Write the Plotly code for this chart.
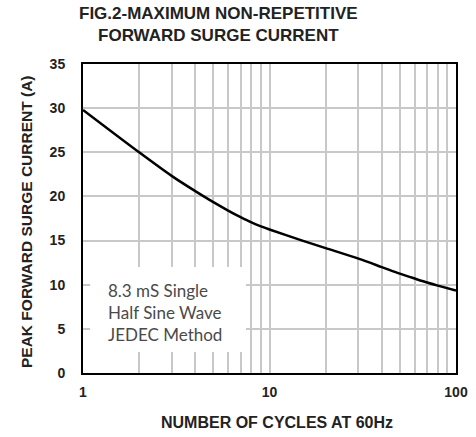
import plotly.graph_objects as go

cycles = [1, 2, 3, 4, 5, 6, 7, 8, 9, 10, 15, 20, 30, 40, 50, 60, 70, 80, 100]
current = [29.8, 25.0, 22.3, 20.6, 19.35, 18.4, 17.65, 17.05, 16.6, 16.25, 15.0, 14.15, 12.95, 12.0, 11.25, 10.7, 10.25, 9.9, 9.35]

x_tickvals = [1, 10, 100]
x_ticktext = ["1", "10", "100"]
x_minor = [2, 3, 4, 5, 6, 7, 8, 9, 20, 30, 40, 50, 60, 70, 80, 90]
y_tickvals = [0, 5, 10, 15, 20, 25, 30, 35]

title_text = "FIG.2-MAXIMUM NON-REPETITIVE<br>FORWARD SURGE CURRENT"
x_title = "NUMBER OF CYCLES AT 60Hz"
y_title = "PEAK FORWARD SURGE CURRENT (A)"
note_text = "8.3 mS Single<br>Half Sine Wave<br>JEDEC Method"

fig = go.Figure()
fig.add_trace(go.Scatter(x=cycles, y=current, mode="lines",
                         line=dict(color="black", width=2.5, shape="spline", smoothing=0.8),
                         showlegend=False))

bold = dict(family="Liberation Sans", color="#222", weight="bold")
fig.update_xaxes(type="log", range=[0, 2], tickvals=x_tickvals, ticktext=x_ticktext,
                 showgrid=True, gridcolor="#c8c8c8", gridwidth=2,
                 minor=dict(tickvals=x_minor, showgrid=True, gridcolor="#c8c8c8", gridwidth=2),
                 showline=True, linecolor="black", linewidth=2, mirror=True,
                 ticks="", ticklabelstandoff=5, tickfont=dict(size=14, **bold),
                 automargin=False, zeroline=False)
fig.update_yaxes(range=[0, 35], tickvals=y_tickvals,
                 showgrid=True, gridcolor="#c8c8c8", gridwidth=2,
                 showline=True, linecolor="black", linewidth=2, mirror=True,
                 ticks="", ticklabelstandoff=13, tickfont=dict(size=14, **bold),
                 automargin=False, zeroline=False)

fig.add_shape(type="rect", xref="paper", yref="paper", x0=0.019, x1=0.437, y0=0.068, y1=0.343,
              fillcolor="white", line=dict(width=0), layer="above")
fig.add_annotation(text=note_text, xref="paper", yref="paper", x=0.062, y=0.308,
                   xanchor="left", yanchor="top", align="left", showarrow=False,
                   font=dict(family="Lato", size=17, color="#4a4a4a"))

# titles
fig.add_annotation(text=title_text, xref="paper", yref="paper", x=(218 - 83) / 373, y=1 + 62 / 309,
                   xanchor="center", yanchor="top", showarrow=False, align="center",
                   font=dict(size=17, **bold))
fig.add_annotation(text=x_title, xref="paper", yref="paper", x=(277 - 83) / 373, y=-(422 - 373) / 309,
                   xanchor="center", yanchor="middle", showarrow=False,
                   font=dict(size=16, **bold))
fig.add_annotation(text=y_title, xref="paper", yref="paper", x=-(83 - 27) / 373, y=0.5 - (222 - 218.5) / 309,
                   xanchor="center", yanchor="middle", showarrow=False, textangle=-90,
                   font=dict(size=15.5, **bold))

fig.update_layout(
    width=476, height=437,
    margin=dict(l=83, r=20, t=64, b=64),
    paper_bgcolor="white", plot_bgcolor="white",
)

fig.write_html("out.html", config={"displayModeBar": False},
               post_script="document.body.style.margin='0';document.body.style.overflow='hidden';")
